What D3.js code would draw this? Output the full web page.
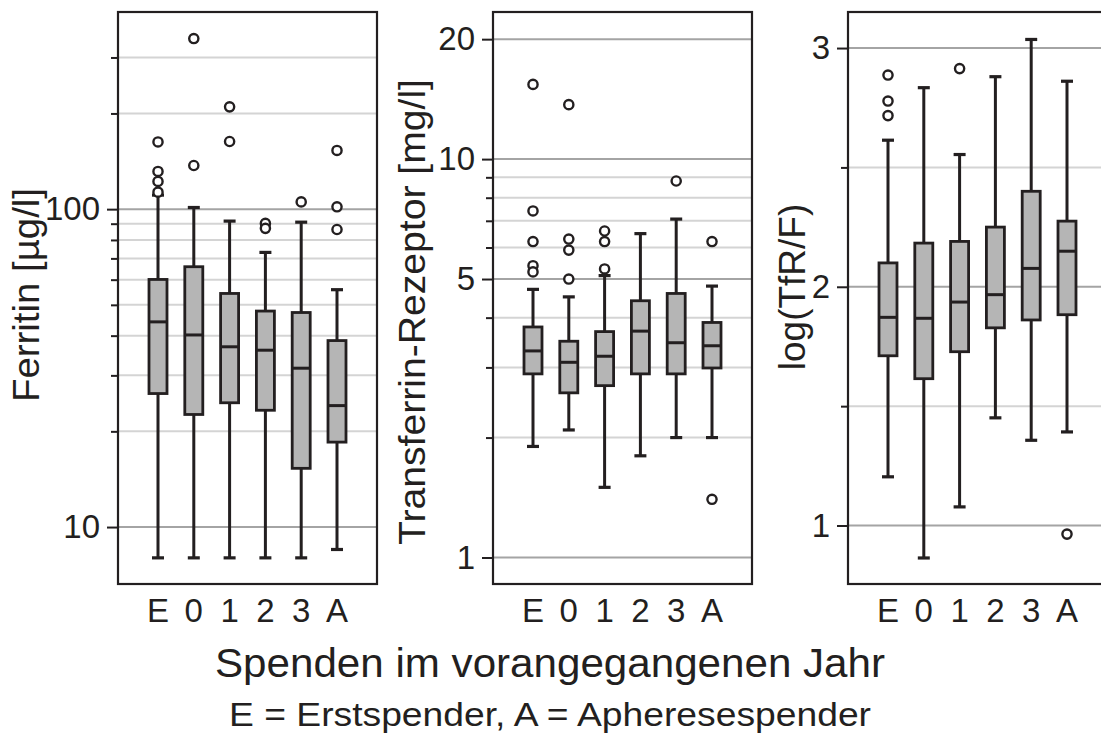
<!DOCTYPE html>
<html>
<head>
<meta charset="utf-8">
<script src="https://cdn.jsdelivr.net/npm/d3@7"></script>
<style>
  body { margin: 0; background: #fff; }
  svg { display: block; font-family: "Liberation Sans", Arial, sans-serif; }
</style>
</head>
<body>
<div id="chart"></div>
<script>
// Groups: E = Erstspender, 0..3 = donations in previous year, A = Apheresespender
const categories = ["E", "0", "1", "2", "3", "A"];

// Box stats per group: [lower whisker, Q1, median, Q3, upper whisker]
const ferritinBoxes = [
    [8.0, 26.3, 44.2, 60.1, 110.7],
    [8.0, 22.6, 40.2, 65.9, 101.2],
    [8.0, 24.6, 36.9, 54.3, 91.7],
    [8.0, 23.3, 36.0, 47.8, 73.1],
    [8.0, 15.3, 31.6, 47.3, 91.0],
    [8.5, 18.5, 24.1, 38.6, 55.8]
];
const ferritinOutliers = [
    [162.7, 131.4, 122.2, 113.1],
    [344, 137.2],
    [209.8, 163.2],
    [90.2, 87.0],
    [105.4],
    [153, 101.7, 86.3]
];

const tfrBoxes = [
    [1.90, 2.89, 3.30, 3.79, 4.71],
    [2.09, 2.59, 3.09, 3.49, 4.51],
    [1.50, 2.70, 3.20, 3.69, 5.10],
    [1.80, 2.89, 3.70, 4.41, 6.50],
    [2.00, 2.89, 3.46, 4.60, 7.07],
    [2.00, 2.99, 3.40, 3.89, 4.80]
];
const tfrOutliers = [
    [15.4, 7.41, 6.21, 5.40, 5.21],
    [13.7, 6.30, 5.91, 5.00],
    [6.60, 6.21, 5.30],
    [],
    [8.81],
    [6.21, 1.40]
];

const ratioBoxes = [
    [1.204, 1.711, 1.872, 2.100, 2.614],
    [0.864, 1.615, 1.868, 2.183, 2.834],
    [1.078, 1.728, 1.936, 2.190, 2.554],
    [1.451, 1.828, 1.967, 2.250, 2.880],
    [1.357, 1.861, 2.077, 2.400, 3.036],
    [1.392, 1.883, 2.149, 2.275, 2.861]
];
const ratioOutliers = [
    [2.887, 2.778, 2.717],
    [],
    [2.914],
    [],
    [],
    [0.964]
];

// Tick values (major ones carry a label)
const ferritinMajor = [10, 100];
const ferritinMinor = [20, 30, 40, 50, 60, 70, 80, 90, 200, 300];
const tfrMajor = [1, 5, 10, 20];
const tfrMinor = [2, 3, 4, 6, 7, 8, 9];
const ratioMajor = [1, 2, 3];
const ratioMinor = [1.5, 2.5];

const W = 1101, H = 733;
const plotTop = 12, plotBottom = 584, panelW = 259, inner = 40;
const ink = "#231f20";

const svg = d3.select("#chart").append("svg")
    .attr("width", W)
    .attr("height", H);

function drawPanel(cfg) {
    const x = d3.scalePoint()
        .domain(categories)
        .range([cfg.left + inner, cfg.left + panelW - inner]);
    const y = cfg.scale.range([plotBottom, plotTop]);

    const g = svg.append("g");

    // gridlines
    g.selectAll(".grid-minor")
        .data(cfg.minor)
        .enter().append("line")
        .attr("x1", cfg.left).attr("x2", cfg.left + panelW)
        .attr("y1", d => y(d)).attr("y2", d => y(d))
        .attr("stroke", "#d4d4d4")
        .attr("stroke-width", 2);
    g.selectAll(".grid-major")
        .data(cfg.major)
        .enter().append("line")
        .attr("x1", cfg.left).attr("x2", cfg.left + panelW)
        .attr("y1", d => y(d)).attr("y2", d => y(d))
        .attr("stroke", "#a4a4a4")
        .attr("stroke-width", 2);

    // axes
    const minorAxis = g.append("g")
        .attr("transform", `translate(${cfg.left},0)`)
        .call(d3.axisLeft(y).tickValues(cfg.minor).tickSize(7).tickFormat(""));
    const majorAxis = g.append("g")
        .attr("transform", `translate(${cfg.left},0)`)
        .call(d3.axisLeft(y).tickValues(cfg.major).tickSize(11).tickPadding(7)
            .tickFormat(d3.format("~g")));
    [minorAxis, majorAxis].forEach(a => {
        a.select(".domain").remove();
        a.selectAll(".tick line").attr("stroke", ink).attr("stroke-width", 2);
        a.selectAll(".tick text")
            .attr("fill", ink)
            .style("font-size", "33px")
            .style("font-family", "Liberation Sans, Arial, sans-serif");
    });

    // frame
    g.append("rect")
        .attr("x", cfg.left).attr("y", plotTop)
        .attr("width", panelW).attr("height", plotBottom - plotTop)
        .attr("fill", "none")
        .attr("stroke", ink)
        .attr("stroke-width", 2.2);

    // boxes
    const boxW = 18, capW = 12;
    const groups = g.selectAll(".box")
        .data(cfg.boxes.map((b, i) => ({cat: categories[i], s: b, out: cfg.outliers[i]})))
        .enter().append("g")
        .attr("class", "box");

    groups.append("line")
        .attr("x1", d => x(d.cat)).attr("x2", d => x(d.cat))
        .attr("y1", d => y(d.s[0])).attr("y2", d => y(d.s[4]))
        .attr("stroke", ink).attr("stroke-width", 3);
    groups.selectAll(".cap")
        .data(d => [[d.cat, d.s[0]], [d.cat, d.s[4]]])
        .enter().append("line")
        .attr("x1", d => x(d[0]) - capW / 2).attr("x2", d => x(d[0]) + capW / 2)
        .attr("y1", d => y(d[1])).attr("y2", d => y(d[1]))
        .attr("stroke", ink).attr("stroke-width", 3.2);
    groups.append("rect")
        .attr("x", d => x(d.cat) - boxW / 2)
        .attr("y", d => y(d.s[3]))
        .attr("width", boxW)
        .attr("height", d => y(d.s[1]) - y(d.s[3]))
        .attr("fill", "#b5b5b5")
        .attr("stroke", ink)
        .attr("stroke-width", 2.8);
    groups.append("line")
        .attr("x1", d => x(d.cat) - boxW / 2).attr("x2", d => x(d.cat) + boxW / 2)
        .attr("y1", d => y(d.s[2])).attr("y2", d => y(d.s[2]))
        .attr("stroke", ink).attr("stroke-width", 3);
    groups.selectAll(".outlier")
        .data(d => d.out.map(v => [d.cat, v]))
        .enter().append("circle")
        .attr("cx", d => x(d[0]))
        .attr("cy", d => y(d[1]))
        .attr("r", 4.6)
        .attr("fill", "#fff")
        .attr("stroke", ink)
        .attr("stroke-width", 2.4);

    // category labels
    g.selectAll(".cat")
        .data(categories)
        .enter().append("text")
        .attr("x", d => x(d))
        .attr("y", 622)
        .attr("text-anchor", "middle")
        .attr("fill", ink)
        .style("font-size", "33px")
        .text(d => d);

    // y title
    const t = g.append("text")
        .attr("transform", `translate(${cfg.titleX},${cfg.titleY}) rotate(-90)`)
        .attr("text-anchor", "middle")
        .attr("fill", ink)
        .style("font-size", "37px")
        .text(cfg.title);
    if (cfg.titleLen) {
        t.attr("textLength", cfg.titleLen).attr("lengthAdjust", "spacingAndGlyphs");
    }
}

drawPanel({
    left: 118,
    scale: d3.scaleLog().domain([6.62, 417]),
    major: ferritinMajor, minor: ferritinMinor,
    boxes: ferritinBoxes, outliers: ferritinOutliers,
    title: "Ferritin [µg/l]", titleX: 39, titleY: 295, titleLen: 214
});
drawPanel({
    left: 493,
    scale: d3.scaleLog().domain([0.858, 23.4]),
    major: tfrMajor, minor: tfrMinor,
    boxes: tfrBoxes, outliers: tfrOutliers,
    title: "Transferrin-Rezeptor [mg/l]", titleX: 425, titleY: 312, titleLen: 466
});
drawPanel({
    left: 848,
    scale: d3.scaleLinear().domain([0.755, 3.151]),
    major: ratioMajor, minor: ratioMinor,
    boxes: ratioBoxes, outliers: ratioOutliers,
    title: "log(TfR/F)", titleX: 805, titleY: 287
});

// shared x title and legend line
svg.append("text")
    .attr("x", 550).attr("y", 677)
    .attr("text-anchor", "middle")
    .attr("fill", ink)
    .style("font-size", "40px")
    .attr("textLength", 670)
    .attr("lengthAdjust", "spacingAndGlyphs")
    .text("Spenden im vorangegangenen Jahr");
svg.append("text")
    .attr("x", 550).attr("y", 726)
    .attr("text-anchor", "middle")
    .attr("fill", ink)
    .style("font-size", "34px")
    .attr("textLength", 642)
    .attr("lengthAdjust", "spacingAndGlyphs")
    .text("E = Erstspender, A = Apheresespender");
</script>
</body>
</html>
